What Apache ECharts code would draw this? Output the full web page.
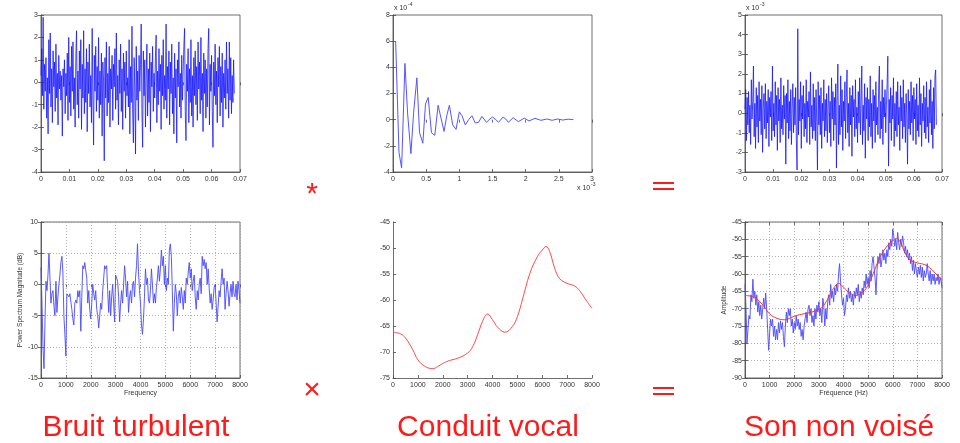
<!DOCTYPE html>
<html>
<head>
<meta charset="utf-8">
<script src="https://cdn.jsdelivr.net/npm/echarts/dist/echarts.min.js"></script>
<style>
html,body{margin:0;padding:0;background:#fff}
#c{width:960px;height:443px}
</style>
</head>
<body>
<div id="c"></div>
<script>
// ---- Source/filter model of an unvoiced sound ----

// Turbulent noise excitation (time signal), one sample every noiseStep seconds
const noiseStep = 0.00025;
const excitation = [
0.3,1.5,-0.6,2.9,-1.2,0.8,-0.4,1.1,-1.6,0.2,-2.3,1.9,-0.5,2.2,-1.1,0.6,-1.8,1.4,-0.2,0.9,
-1.3,1.7,-0.7,0.4,-1.9,1.2,-0.3,0.5,-0.8,0.3,-2.4,0.6,-0.2,1.0,-1.4,0.4,-0.6,1.3,-1.7,2.0,
-0.9,0.7,-1.5,1.6,-0.4,1.8,-1.2,0.2,-2.0,1.1,2.3,-1.0,0.5,-1.6,1.4,-0.3,1.9,-2.1,0.8,-0.7,
2.3,-1.4,0.6,-0.9,1.5,-2.2,0.9,-0.5,1.7,-1.1,0.3,-1.8,2.4,-0.6,-2.8,1.2,-0.4,1.6,-1.3,0.7,
-0.8,2.0,-1.6,0.5,-1.0,1.3,-2.4,0.9,0.1,-3.5,1.1,-0.7,1.8,-1.5,0.4,-0.9,1.6,-2.0,0.6,-0.3,
1.2,-1.7,0.8,-0.2,1.5,-1.2,2.2,-0.8,0.3,-1.9,1.0,-0.5,1.7,-1.3,0.6,-2.1,1.3,-0.4,0.9,-1.6,
1.4,-0.6,0.2,-1.1,1.9,-2.3,0.7,-0.9,2.5,-1.4,-2.7,1.1,-0.3,-3.2,1.6,-0.8,0.5,-1.7,1.2,-0.4,
0.8,2.6,-1.2,-2.9,1.4,-0.6,1.0,-2.0,0.3,1.7,-1.5,0.6,-0.9,1.3,-2.2,0.9,-0.2,1.6,-1.3,0.4,
-0.7,1.1,2.1,-1.8,0.5,-1.0,1.5,-0.4,0.8,-2.1,1.2,-0.6,1.9,-1.2,0.3,-0.8,2.6,-1.6,0.7,-0.3,
1.4,-1.9,0.9,-0.5,1.7,-1.4,0.2,-2.3,1.3,-0.7,0.6,-2.7,1.0,-0.2,1.8,-1.1,0.4,-1.6,1.2,-0.8,
0.5,1.6,2.4,-1.3,-2.6,0.8,-0.4,1.5,-1.8,0.6,-0.9,1.9,-1.5,0.3,-2.0,1.1,-0.6,1.4,-1.0,0.7,
-1.7,1.8,-0.3,0.9,-1.4,2.0,-0.8,0.4,-2.2,1.3,-0.5,1.0,-1.6,0.6,-1.1,1.5,2.4,-1.9,0.8,-0.4,
1.2,-1.3,-2.9,0.9,-0.6,1.7,-1.0,0.5,-1.8,1.1,-0.2,1.6,-1.5,0.7,-0.9,1.3,-2.0,0.4,-0.7,1.0,
-1.2,1.8,-0.5,0.6,-1.6,1.8,-0.8,1.1,-1.4,0.3,-0.9,1.0,-0.5
];

// Vocal tract impulse response: [time (x 1e-3 s), amplitude (x 1e-4)]
const impulseT = [0.04,0.07,0.09,0.13,0.18,0.22,0.27,0.31,0.36,0.40,0.45,0.49,0.53,0.58,0.63,0.68,0.72,0.77,0.81,0.85,0.90,0.95,1.00,1.04,1.09,1.14,1.19,1.24,1.29,1.34,1.41,1.45,1.50,1.55,1.59,1.66,1.70,1.74,1.81,1.89,1.98,2.05,2.14,2.23,2.32,2.40,2.48,2.56,2.64,2.72];
const impulseA = [6,6,-2.5,-3.7,4.3,0.5,-2.6,0.5,3.2,-1.0,-1.8,1.2,1.7,-1.0,-1.2,1.1,0.2,-0.9,0.3,1.1,-0.4,-0.75,0.6,0.3,-0.4,0,0.3,-0.25,-0.2,0.25,-0.2,0,0.2,0,-0.2,0.2,0.05,-0.2,0.15,-0.15,0.12,-0.1,0.1,-0.05,0.05,-0.05,0.05,-0.03,0.04,0];

// Unvoiced sound output (time signal, x 1e-3)
const output = [
0.2,1.2,-1.4,0.8,-0.6,1.1,-1.0,0.4,-1.6,1.7,-0.3,0.6,2.4,-1.2,0.5,-1.8,1.3,-0.7,0.9,-1.5,
1.6,-0.4,0.7,-1.1,1.4,-2.0,0.3,1.0,-0.8,1.5,-1.3,0.6,-0.5,1.2,-1.7,0.8,-0.2,1.1,-1.4,2.4,
-0.9,0.5,-1.2,1.6,-0.6,0.9,-1.9,1.3,-0.4,0.7,-1.5,1.8,-0.8,0.4,-1.1,1.4,-0.3,0.9,-2.6,1.0,
-0.5,1.7,-1.3,0.6,-0.9,1.2,-1.6,0.3,1.5,-1.0,0.8,-0.6,1.3,-1.4,-2.9,4.3,-1.1,0.7,-0.4,1.6,
-1.8,0.9,-0.3,1.4,-1.2,0.5,-0.8,1.7,-1.5,0.6,-0.2,1.1,-1.6,2.1,-0.7,0.4,-1.3,1.5,-0.9,0.8,
-1.4,1.2,-0.5,-2.9,1.6,-0.6,0.9,-1.1,1.3,-1.8,0.5,-0.4,1.7,-1.2,0.7,-0.9,1.0,-1.5,0.3,1.4,
-1.0,0.6,-1.7,1.8,-0.3,1.1,-1.4,0.8,-0.6,1.5,-2.8,0.9,2.5,-1.6,0.4,-1.1,1.9,-0.7,1.2,-1.9,
0.6,-0.4,1.6,-1.3,0.8,2.2,-1.0,0.5,-1.7,1.3,-0.6,0.9,-2.2,1.4,-0.2,0.7,-1.2,1.7,-0.8,0.3,
-1.5,1.1,-0.5,1.8,-1.1,0.6,2.4,-1.6,0.4,-0.9,1.5,-2.3,0.8,-0.3,1.3,-1.4,0.7,-0.7,1.9,-1.2,
0.5,-1.8,1.2,-0.4,0.9,-1.5,1.6,-0.6,0.3,-1.1,1.4,2.4,-1.3,0.6,-0.8,1.7,-1.6,0.8,-0.2,1.2,
-1.0,0.4,1.5,2.9,-2.7,0.7,-0.5,1.3,-1.4,0.9,-0.3,1.8,-1.7,0.5,-0.9,1.1,-1.2,1.6,-0.6,0.3,
-1.9,1.4,-0.4,0.8,-1.3,1.7,-0.7,0.5,-1.5,1.0,-0.2,-2.6,1.2,-0.8,0.6,-1.1,1.6,-0.5,0.9,-1.4,
1.3,-0.3,0.7,-1.6,1.5,-0.9,0.4,-1.2,1.8,-0.6,1.0,-1.7,0.5,-0.4,1.4,-1.0,0.8,-1.3,1.6,-0.7,
0.3,-1.5,1.2,-0.5,1.7,-1.1,0.6,-1.8,1.3,-0.8,1.9,2.2,-0.6
];

// Spectra, one value every freqStep Hz from 0 to 8000 Hz
const freqStep = 40;
const noiseSpectrum = [
2.7,-3,-10,-13.5,-6,0.5,-1,1.5,5,1,-3,-1.5,-1,-3.5,-5,0.5,-4.5,-2,0,1.5,
3.5,4.5,2,-5,-8,-11.5,-1.5,-1.2,-2,-1.5,-1.8,-4,-5.5,-6.5,-3,-2.5,-3,-1,-2,-1,
-7.5,-2,3,2.5,3.5,3.5,1,-3,-1,-4,-5.5,-3,0,-1.5,-2.5,-1,-4,-5,-7,-5,
-3,-4,-1,1,3,2.5,3,-1,-4.5,-1,-5,-2,0,-3,-6,1.5,1.5,0.5,-2,-6,
-3,-1,-3,0,3,1,-2,0.5,-4.5,-2,-1,-3,0,0.5,-2,1,3,6.5,2,-1,
-3,-6.5,-8,-5.5,-2,2.5,0,1,-2.5,-3,-1,2.5,0,-3,-1.5,-3,-0.5,1,3,0.5,
2.5,5.5,3,4.5,0,3,-1,1,0,5.5,6.5,4.5,-1,-7.5,-3,0,-1.5,-5,-2,-1,
-3,-0.5,-2,-4,-1,-3,1,0,2,3.5,1,2.5,-1,0.5,1.5,-2,-4,-1,-2.5,0,
1,-1.5,4.5,3,4,2.5,3.5,0,2.5,-0.5,-3,-1.5,-4,-2.5,-0.5,0,-3,-6,-3.5,-1,
-2,0.5,2.5,0,1,-4,-1.5,0.5,-1,-3.5,-1.5,0,-2,0.5,-1.5,-2,0,-2.5,0.5,-1,
-3
];
const soundSpectrum = [
-63,-70,-80,-76,-72,-73,-66,-68,-61.5,-67,-65,-69,-66,-71,-68,-72,-69,-73,-70,-67,
-70,-65.5,-70,-76,-82,-77,-73,-75,-73,-78,-75,-79,-76,-79,-74,-77,-73.5,-76,-74,-78,
-81,-75,-71,-74,-70,-72,-70,-75,-73,-77,-74,-76,-72,-75,-73,-76,-74,-78,-76,-79,
-75,-73,-71,-74,-70,-69,-72,-70,-74,-72,-75,-70,-73,-69,-71,-68,-72,-70,-74,-67,
-69,-75,-70,-73,-68,-66,-69,-63,-67,-65,-68,-64,-66,-63,-65,-60,-57,-62,-66,-69,
-67,-72,-70,-66,-68,-64,-67,-65,-68,-66,-69,-65,-67,-64,-66,-63,-68,-65,-67,-64,
-66,-62,-64,-60,-63,-61,-64,-59,-62,-57,-55,-58,-61,-66,-59,-55,-57,-54,-58,-56,
-53,-56,-54,-57,-53,-55,-51,-53,-50,-52,-47,-49,-52,-50,-53,-48,-51,-53,-50,-52,
-49,-51,-54,-52,-55,-53,-56,-54,-57,-55,-59,-56,-60,-57,-59,-61,-58,-60,-57.5,-61,
-58,-62,-59,-61,-60,-57,-60,-62,-59,-63,-60,-62,-60,-63,-61,-62,-60,-63,-61,-62,
-64
];

// Vocal tract transfer function (envelope, dB)
const envF = [0,300,500,800,1000,1300,1600,1800,2000,2300,2600,3000,3200,3400,3600,3800,4000,4200,4500,4800,5000,5200,5500,5800,6000,6150,6300,6500,6700,7000,7300,7500,7800,8000];
const envA = [-66.2,-66.5,-67.3,-69.6,-71.5,-72.8,-73.2,-72.8,-72.2,-71.6,-71.2,-70.2,-69,-66.7,-64.1,-62.7,-63.8,-65.2,-66.2,-65.1,-63.2,-60,-54.9,-51.7,-50.4,-49.7,-50.7,-53.9,-55.9,-56.8,-57.3,-58.2,-60.3,-61.6];

// Captions under each column
const captions = ['Bruit turbulent', 'Conduit vocal', 'Son non voisé'];

// ---- build series data from the arrays ----
const timeSeries = arr => arr.map((v, i) => [+(i * noiseStep).toFixed(5), v]);
const freqSeries = arr => arr.map((v, i) => [i * freqStep, v]);
const pairSeries = (xs, ys) => xs.map((x, i) => [x, ys[i]]);

const FONT = '"Liberation Sans", Arial, Helvetica, sans-serif';
const AXC = '#4a4a4a';
const RED = '#ff1a1a';

const panels = [
  { grid: {left: 41, top: 15, width: 199, height: 157}, box: true, dots: false,
    x: {min: 0, max: 0.07, interval: 0.01, fmt: v => v === 0 ? '0' : v.toFixed(2)},
    y: {min: -4, max: 3, interval: 1},
    series: [{data: timeSeries(excitation), color: '#1010ff', width: 0.75}] },
  { grid: {left: 393, top: 15, width: 199, height: 157}, box: true, dots: false,
    x: {min: 0, max: 3, interval: 0.5},
    y: {min: -4, max: 8, interval: 2},
    series: [{data: pairSeries(impulseT, impulseA), color: '#5555ff', width: 1}] },
  { grid: {left: 745, top: 15, width: 197, height: 157}, box: true, dots: false,
    x: {min: 0, max: 0.07, interval: 0.01, fmt: v => v === 0 ? '0' : v.toFixed(2)},
    y: {min: -3, max: 5, interval: 1},
    series: [{data: timeSeries(output), color: '#1010ff', width: 0.75}] },
  { grid: {left: 41, top: 222, width: 199, height: 156}, box: true, dots: true, yGap: 14,
    x: {min: 0, max: 8000, interval: 1000, name: 'Frequency'},
    y: {min: -15, max: 10, interval: 5, name: 'Power Spectrum Magnitude (dB)'},
    series: [{data: freqSeries(noiseSpectrum), color: '#4848ff', width: 0.9}] },
  { grid: {left: 393, top: 222, width: 199, height: 156}, box: false, dots: false,
    x: {min: 0, max: 8000, interval: 1000},
    y: {min: -75, max: -45, interval: 5},
    series: [{data: pairSeries(envF, envA), color: '#ff4a4a', width: 1, smooth: 0.4}] },
  { grid: {left: 745, top: 222, width: 197, height: 156}, box: true, dots: true, yGap: 12,
    x: {min: 0, max: 8000, interval: 1000, name: 'Fréquence (Hz)'},
    y: {min: -90, max: -45, interval: 5, name: 'Amplitude'},
    series: [
      {data: freqSeries(soundSpectrum), color: '#4848ff', width: 0.9},
      {data: pairSeries(envF, envA), color: '#ff3030', width: 1, smooth: 0.4}] }
];

const grids = [], xAxes = [], yAxes = [], series = [];
const labelStyle = {fontFamily: FONT, fontSize: 7, color: '#333'};
const dotted = {show: true, lineStyle: {color: '#9a9a9a', width: 0.8, type: [1, 2]}};
const tick = {show: true, inside: true, length: 3, lineStyle: {color: AXC, width: 0.8}};

panels.forEach((p, gi) => {
  grids.push(Object.assign({
    show: p.box, borderColor: AXC, borderWidth: 0.8, backgroundColor: 'transparent',
    containLabel: false
  }, p.grid));

  const xi = xAxes.length, yi = yAxes.length;
  xAxes.push({
    type: 'value', gridIndex: gi, position: 'bottom',
    min: p.x.min, max: p.x.max, interval: p.x.interval,
    axisLine: {show: true, onZero: false, lineStyle: {color: AXC, width: 0.8}},
    axisTick: tick,
    axisLabel: Object.assign({margin: 4, formatter: p.x.fmt || (v => String(v))}, labelStyle),
    splitLine: p.dots ? dotted : {show: false},
    name: p.x.name || '', nameLocation: 'middle', nameGap: 11,
    nameTextStyle: {fontFamily: FONT, fontSize: 7, color: '#333'}
  });
  yAxes.push({
    type: 'value', gridIndex: gi, position: 'left',
    min: p.y.min, max: p.y.max, interval: p.y.interval,
    axisLine: {show: true, onZero: false, lineStyle: {color: AXC, width: 0.8}},
    axisTick: tick,
    axisLabel: Object.assign({margin: 3}, labelStyle),
    splitLine: p.dots ? dotted : {show: false},
    name: p.y.name || '', nameLocation: 'middle', nameGap: p.yGap || 15, nameRotate: 90,
    nameTextStyle: {fontFamily: FONT, fontSize: 6.5, color: '#333'}
  });
  if (p.box) {
    // mirrored tick marks on the top and right edges
    xAxes.push({
      type: 'value', gridIndex: gi, position: 'top',
      min: p.x.min, max: p.x.max, interval: p.x.interval,
      axisLine: {show: false}, axisLabel: {show: false}, splitLine: {show: false},
      axisTick: tick
    });
    yAxes.push({
      type: 'value', gridIndex: gi, position: 'right',
      min: p.y.min, max: p.y.max, interval: p.y.interval,
      axisLine: {show: false}, axisLabel: {show: false}, splitLine: {show: false},
      axisTick: tick
    });
  }
  p.series.forEach(s => {
    series.push({
      type: 'line', xAxisIndex: xi, yAxisIndex: yi, data: s.data,
      showSymbol: false, smooth: s.smooth || false, clip: true,
      lineStyle: {color: s.color, width: s.width}, itemStyle: {color: s.color},
      silent: true, animation: false
    });
  });
});

// exponent labels, operators and captions
const expo = (x, y, e) => [
  {type: 'text', left: x, top: y, style: {text: 'x 10', fontFamily: FONT, fontSize: 7, fill: '#333'}},
  {type: 'text', left: x + 14, top: y - 3, style: {text: e, fontFamily: FONT, fontSize: 5, fill: '#333'}}
];
const graphics = [].concat(
  expo(394, 5, '-4'),
  expo(577, 185, '-3'),
  expo(746, 5, '-3'),
  [
    {type: 'text', x: 312, y: 195, style: {text: '*', fontFamily: FONT, fontSize: 30, fill: RED, align: 'center', verticalAlign: 'middle'}},
    {type: 'text', x: 312, y: 391, style: {text: '×', fontFamily: FONT, fontSize: 30, fill: RED, align: 'center', verticalAlign: 'middle'}},
    {type: 'rect', shape: {x: 653, y: 182, width: 21, height: 2}, style: {fill: RED}},
    {type: 'rect', shape: {x: 653, y: 188, width: 21, height: 2}, style: {fill: RED}},
    {type: 'rect', shape: {x: 653, y: 387, width: 21, height: 2}, style: {fill: RED}},
    {type: 'rect', shape: {x: 653, y: 393, width: 21, height: 2}, style: {fill: RED}},
    {type: 'text', x: 136, y: 428, style: {text: captions[0], fontFamily: FONT, fontSize: 30, fill: RED, align: 'center', verticalAlign: 'middle'}},
    {type: 'text', x: 488, y: 428, style: {text: captions[1], fontFamily: FONT, fontSize: 30, fill: RED, align: 'center', verticalAlign: 'middle'}},
    {type: 'text', x: 839, y: 428, style: {text: captions[2], fontFamily: FONT, fontSize: 30, fill: RED, align: 'center', verticalAlign: 'middle'}}
  ]
);

const chart = echarts.init(document.getElementById('c'), null, {renderer: 'canvas'});
chart.setOption({
  backgroundColor: '#fff',
  animation: false,
  grid: grids,
  xAxis: xAxes,
  yAxis: yAxes,
  series: series,
  graphic: graphics
});
</script>
</body>
</html>
